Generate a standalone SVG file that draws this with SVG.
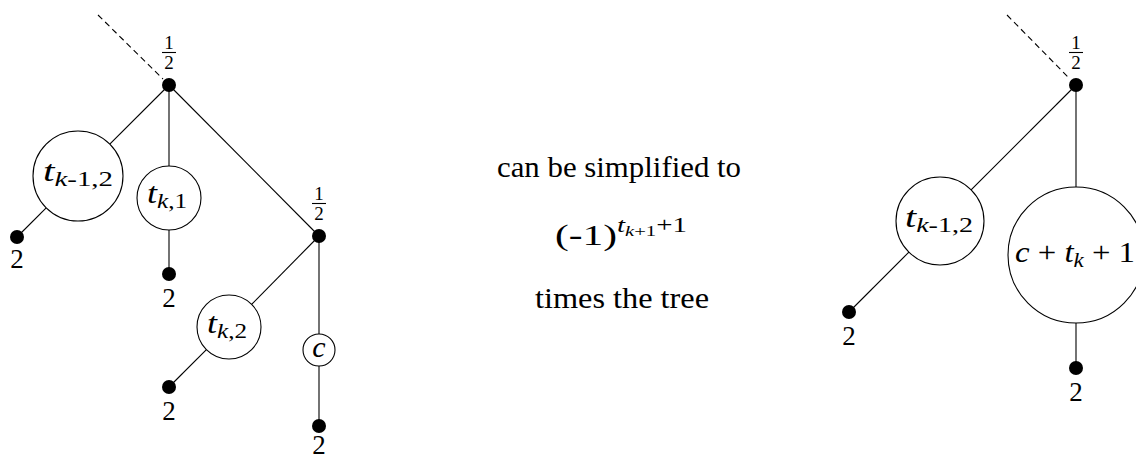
<svg xmlns="http://www.w3.org/2000/svg" width="1136" height="457" viewBox="0 0 1136 457">
<defs>
  <circle id="dotshape" r="7" fill="#000"/>
</defs>
<rect width="1136" height="457" fill="#fff"/>
<g id="connectors" stroke="#000" stroke-width="1.1" fill="none">
  <line stroke-dasharray="6 4" x1="98" y1="15" x2="163" y2="79"/>
  <line x1="169" y1="85" x2="109.8" y2="144.2"/>
  <line x1="46.2" y1="207.8" x2="17" y2="237"/>
  <line x1="169" y1="85" x2="169" y2="166"/>
  <line x1="169" y1="230" x2="169" y2="274"/>
  <line x1="169" y1="85" x2="319" y2="236"/>
  <line x1="319" y1="236" x2="251.6" y2="304.4"/>
  <line x1="206.4" y1="349.6" x2="169" y2="387"/>
  <line x1="319" y1="236" x2="319" y2="334"/>
  <line x1="319" y1="366" x2="319" y2="426"/>
  <line stroke-dasharray="6 4" x1="1007" y1="15" x2="1070" y2="79"/>
  <line x1="1076" y1="85" x2="971.1" y2="189.9"/>
  <line x1="908.9" y1="252.1" x2="849" y2="312"/>
  <line x1="1076" y1="85" x2="1076" y2="187"/>
  <line x1="1076" y1="323" x2="1076" y2="368"/>
</g>
<g id="root-left">
  <use href="#dotshape" x="169" y="85"/>
  <text font-family="Liberation Serif" font-size="19" text-anchor="middle" x="169" y="49">1</text>
  <line stroke="#000" stroke-width="1.1" x1="162" y1="52.5" x2="176" y2="52.5"/>
  <text font-family="Liberation Serif" font-size="19" text-anchor="middle" x="169" y="68.5">2</text>
</g>
<g id="node-tk-1-2-left">
  <circle fill="#fff" stroke="#000" stroke-width="1.1" cx="78" cy="176" r="45"/>
  <text font-family="Liberation Serif" font-size="30" text-anchor="middle" x="78" y="181" textLength="70" lengthAdjust="spacingAndGlyphs"><tspan font-style="italic">t</tspan><tspan font-size="21" dy="5"><tspan font-style="italic">k</tspan>-1,2</tspan></text>
</g>
<g id="leaf-1">
  <use href="#dotshape" x="17" y="237"/>
  <text font-family="Liberation Serif" font-size="27" text-anchor="middle" x="17" y="268">2</text>
</g>
<g id="node-tk1">
  <circle fill="#fff" stroke="#000" stroke-width="1.1" cx="169" cy="198" r="32"/>
  <text font-family="Liberation Serif" font-size="30" text-anchor="middle" x="167" y="203" textLength="40" lengthAdjust="spacingAndGlyphs"><tspan font-style="italic">t</tspan><tspan font-size="21" dy="5"><tspan font-style="italic">k</tspan>,1</tspan></text>
</g>
<g id="leaf-2">
  <use href="#dotshape" x="169" y="274"/>
  <text font-family="Liberation Serif" font-size="27" text-anchor="middle" x="169" y="307">2</text>
</g>
<g id="node-b">
  <use href="#dotshape" x="319" y="236"/>
  <text font-family="Liberation Serif" font-size="19" text-anchor="middle" x="319" y="200">1</text>
  <line stroke="#000" stroke-width="1.1" x1="312" y1="203.5" x2="326" y2="203.5"/>
  <text font-family="Liberation Serif" font-size="19" text-anchor="middle" x="319" y="219.5">2</text>
</g>
<g id="node-tk2">
  <circle fill="#fff" stroke="#000" stroke-width="1.1" cx="229" cy="327" r="32"/>
  <text font-family="Liberation Serif" font-size="30" text-anchor="middle" x="227" y="333" textLength="40" lengthAdjust="spacingAndGlyphs"><tspan font-style="italic">t</tspan><tspan font-size="21" dy="5"><tspan font-style="italic">k</tspan>,2</tspan></text>
</g>
<g id="leaf-3">
  <use href="#dotshape" x="169" y="387"/>
  <text font-family="Liberation Serif" font-size="27" text-anchor="middle" x="169" y="420">2</text>
</g>
<g id="node-c">
  <circle fill="#fff" stroke="#000" stroke-width="1.1" cx="319" cy="350" r="16"/>
  <text font-family="Liberation Serif" font-size="30" font-style="italic" text-anchor="middle" x="319" y="357">c</text>
</g>
<g id="leaf-4">
  <use href="#dotshape" x="319" y="426"/>
  <text font-family="Liberation Serif" font-size="27" text-anchor="middle" x="319" y="454">2</text>
</g>
<g id="middle-text">
  <text font-family="Liberation Serif" font-size="30" text-anchor="middle" x="619" y="177" textLength="244" lengthAdjust="spacingAndGlyphs">can be simplified to</text>
  <text font-family="Liberation Serif" font-size="30" x="555" y="245" textLength="132" lengthAdjust="spacingAndGlyphs">(-1)<tspan font-style="italic" font-size="21" dy="-13">t</tspan><tspan font-size="15" dy="4"><tspan font-style="italic">k</tspan>+1</tspan><tspan font-size="21" dy="-4">+1</tspan></text>
  <text font-family="Liberation Serif" font-size="30" text-anchor="middle" x="622" y="308" textLength="174" lengthAdjust="spacingAndGlyphs">times the tree</text>
</g>
<g id="root-right">
  <use href="#dotshape" x="1076" y="85"/>
  <text font-family="Liberation Serif" font-size="19" text-anchor="middle" x="1076" y="49">1</text>
  <line stroke="#000" stroke-width="1.1" x1="1069" y1="52.5" x2="1083" y2="52.5"/>
  <text font-family="Liberation Serif" font-size="19" text-anchor="middle" x="1076" y="68.5">2</text>
</g>
<g id="node-tk-1-2-right">
  <circle fill="#fff" stroke="#000" stroke-width="1.1" cx="940" cy="221" r="44"/>
  <text font-family="Liberation Serif" font-size="30" text-anchor="middle" x="939" y="227" textLength="68" lengthAdjust="spacingAndGlyphs"><tspan font-style="italic">t</tspan><tspan font-size="21" dy="5"><tspan font-style="italic">k</tspan>-1,2</tspan></text>
</g>
<g id="leaf-5">
  <use href="#dotshape" x="849" y="312"/>
  <text font-family="Liberation Serif" font-size="27" text-anchor="middle" x="849" y="345">2</text>
</g>
<g id="node-sum">
  <circle fill="#fff" stroke="#000" stroke-width="1.1" cx="1076" cy="255" r="68"/>
  <text font-family="Liberation Serif" font-size="30" x="1015" y="262" textLength="120" lengthAdjust="spacingAndGlyphs"><tspan font-style="italic">c</tspan> + <tspan font-style="italic">t</tspan><tspan font-size="21" dy="5" font-style="italic">k</tspan><tspan dy="-5"> + 1</tspan></text>
</g>
<g id="leaf-6">
  <use href="#dotshape" x="1076" y="368"/>
  <text font-family="Liberation Serif" font-size="27" text-anchor="middle" x="1076" y="401">2</text>
</g>
</svg>
